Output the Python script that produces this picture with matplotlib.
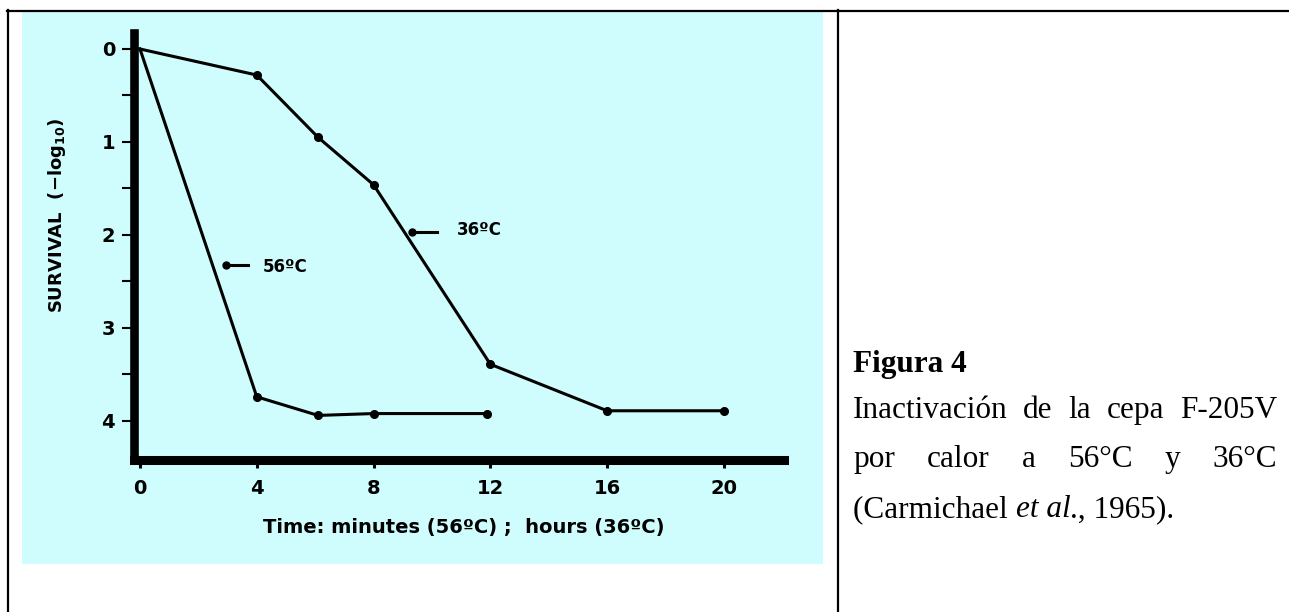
import matplotlib
matplotlib.use('Agg')
import matplotlib.pyplot as plt
from matplotlib.lines import Line2D
from matplotlib.patches import Rectangle
from matplotlib.transforms import Affine2D
from matplotlib.ticker import MultipleLocator

plt.rcParams['font.family'] = ['DejaVu Sans']
plt.rcParams['font.weight'] = 'bold'
plt.rcParams['mathtext.fontset'] = 'custom'
plt.rcParams['mathtext.rm'] = 'DejaVu Sans:bold'
plt.rcParams['mathtext.it'] = 'DejaVu Sans:bold'
plt.rcParams['mathtext.bf'] = 'DejaVu Sans:bold'

# datos
t_36 = [0, 4, 6.1, 8, 12, 16, 20]
surv_36 = [0, 0.28, 0.95, 1.46, 3.39, 3.89, 3.89]
t_56 = [0, 4, 6.1, 8, 11.9]
surv_56 = [0, 3.74, 3.94, 3.92, 3.92]
x_ticks = [0, 4, 8, 12, 16, 20]
y_ticks = [0, 1, 2, 3, 4]

caption_title = 'Figura 4'
caption_1 = ['Inactivación', 'de', 'la', 'cepa', 'F-205V']
caption_2 = ['por', 'calor', 'a', '56°C', 'y', '36°C']

W, H = 1289, 612
fig = plt.figure(figsize=(W / 100, H / 100), dpi=100)
fig.patch.set_facecolor('white')
# coordenadas en pixeles, origen arriba a la izquierda
tr = Affine2D().scale(1, -1).translate(0, H)

# bordes de la tabla y fondo de la imagen
fig.add_artist(Rectangle((22, 11), 801, 553, transform=tr, facecolor='#cffcfc',
                         edgecolor='none', zorder=-10))
for xs, ys in [([7, W], [10.5, 10.5]), ([8, 8], [10, H]), ([837.5, 837.5], [10, H])]:
    fig.add_artist(Line2D(xs, ys, transform=tr, color='black', lw=1.6, zorder=-5))

# grafico
ax = fig.add_axes([134 / W, 1 - 459.5 / H, (783.5 - 134) / W, (459.5 - 33) / H])
ax.set_facecolor('none')
ax.set_xlim(-0.205, 22.04)
ax.set_ylim(4.414, -0.172)
for s in ['top', 'right']:
    ax.spines[s].set_visible(False)
ax.spines['left'].set_linewidth(6.2)
ax.spines['bottom'].set_linewidth(6.5)

ax.set_xticks(x_ticks)
ax.set_yticks(y_ticks)
ax.yaxis.set_minor_locator(MultipleLocator(0.5))
ax.tick_params(axis='y', which='both', direction='out', length=8.6, width=1.5, pad=5, labelsize=14)
ax.tick_params(axis='x', direction='out', length=6.1, width=2.2, pad=8, labelsize=14)

ax.plot(t_36, surv_36, color='black', lw=2.2, marker='o', ms=5.5,
        markevery=list(range(1, len(t_36))), clip_on=False)
ax.plot(t_56, surv_56, color='black', lw=2.2, marker='o', ms=5.5,
        markevery=list(range(1, len(t_56))), clip_on=False)

# etiquetas de las curvas
ax.plot([2.95, 3.70], [2.32, 2.32], color='black', lw=2.2)
ax.plot([2.95], [2.32], 'o', color='black', ms=5)
ax.text(4.21, 2.34, '56ºC', fontsize=12, ha='left', va='center')
ax.plot([9.32, 10.17], [1.97, 1.97], color='black', lw=2.2)
ax.plot([9.32], [1.97], 'o', color='black', ms=5)
ax.text(10.86, 1.95, '36ºC', fontsize=12, ha='left', va='center')

fig.text(57, 215, 'SURVIVAL  (−log$_{10}$)', transform=tr, rotation=90,
         ha='center', va='center', fontsize=13)
fig.text(463.5, 528, 'Time: minutes (56ºC) ;  hours (36ºC)', transform=tr,
         ha='center', va='center', fontsize=14)

# texto de la derecha
serif = dict(family='Liberation Serif', fontsize=22.5, weight='normal', va='baseline')
fig.text(853, 372, caption_title, transform=tr, **dict(serif, weight='bold'))

renderer = fig.canvas.get_renderer()


def justify(words, y, x0, x1):
    txts = [fig.text(x0, y, w, transform=tr, **serif) for w in words]
    widths = [t.get_window_extent(renderer).width for t in txts]
    gap = (x1 - x0 - sum(widths)) / (len(words) - 1)
    x = x0
    for t, w in zip(txts, widths):
        t.set_x(x)
        x += w + gap


justify(caption_1, 418, 853, 1277)
justify(caption_2, 467, 853, 1277)

x = 853
for piece, style in [('(Carmichael ', 'normal'), ('et al', 'italic'), ('., 1965).', 'normal')]:
    t = fig.text(x, 517, piece, transform=tr, style=style, **serif)
    x += t.get_window_extent(renderer).width

fig.savefig('out.png', dpi=100)
